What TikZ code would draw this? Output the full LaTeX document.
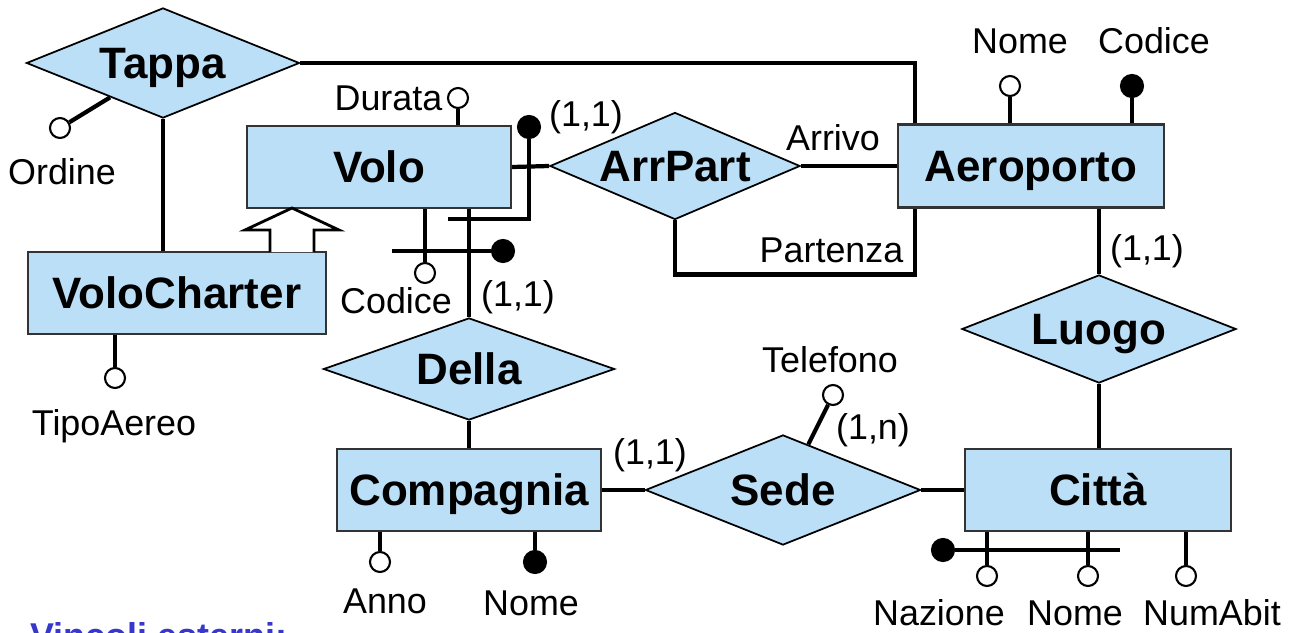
\documentclass[tikz,border=0pt]{standalone}
\usepackage{fontspec}
\setmainfont{Liberation Sans}
\usetikzlibrary{shapes.geometric}
\definecolor{erblue}{RGB}{187,223,247}
\definecolor{noteblue}{RGB}{55,55,205}
\begin{document}
\begin{tikzpicture}[x=0.01cm, y=-0.01cm,
  entity/.style={shape=rectangle, draw=black!80, line width=0.6pt, fill=erblue, inner sep=0pt, font=\fontsize{12.5}{14}\selectfont\bfseries, text height=9pt, text depth=0pt},
  rel/.style={shape=diamond, draw=black, line width=0.5pt, fill=erblue, inner sep=0pt, font=\fontsize{12.5}{14}\selectfont\bfseries, text height=9pt, text depth=0pt},
  attr/.style={shape=circle, draw=black, line width=0.6pt, fill=white, inner sep=0pt, minimum size=0.2cm},
  key/.style={attr, fill=black, minimum size=0.22cm},
  lbl/.style={inner sep=0pt, font=\fontsize{10.2}{12}\selectfont, text height=7.3pt, text depth=0pt},
  conn/.style={line width=1.2pt}]
\useasboundingbox (0,0) rectangle (1296,633);
\node[rel, minimum width=2.73cm, minimum height=1.10cm, aspect=2.5] (Tappa) at (163,63) {Tappa};
\node[rel, minimum width=2.50cm, minimum height=1.07cm, aspect=2.3] (ArrPart) at (675,166) {ArrPart};
\node[rel, minimum width=2.91cm, minimum height=1.02cm, aspect=2.8] (Della) at (469,369) {Della};
\node[rel, minimum width=2.75cm, minimum height=1.10cm, aspect=2.5] (Sede) at (783,490) {Sede};
\node[rel, minimum width=2.74cm, minimum height=1.08cm, aspect=2.5] (Luogo) at (1099,329) {Luogo};
\node[entity, minimum width=2.64cm, minimum height=0.82cm] (Volo) at (379,167) {Volo};
\node[entity, minimum width=2.97cm, minimum height=0.82cm] (VoloCharter) at (177,293) {VoloCharter};
\node[entity, minimum width=2.65cm, minimum height=0.83cm] (Aeroporto) at (1031,166) {Aeroporto};
\node[entity, minimum width=2.64cm, minimum height=0.82cm] (Compagnia) at (469,490) {Compagnia};
\node[entity, minimum width=2.65cm, minimum height=0.82cm] (Citta) at (1098,490) {Città};
\node[attr] (Ordine) at (60,128) {};
\node[attr] (Durata) at (458,98) {};
\node[attr] (VCodice) at (425,273) {};
\node[attr] (TipoAereo) at (115,378) {};
\node[attr] (ANome) at (1010,86) {};
\node[key] (ACodice) at (1132,86) {};
\node[attr] (Telefono) at (833,395) {};
\node[attr] (Anno) at (380,562) {};
\node[key] (CNome) at (535,562) {};
\node[attr] (Nazione) at (987,576) {};
\node[attr] (CiNome) at (1088,576) {};
\node[attr] (NumAbit) at (1186,576) {};
\node[key] (VoloKey) at (503,251) {};
\node[key] (ArrKey) at (529,127) {};
\node[key] (CittaKey) at (943,550) {};
\coordinate (vkend) at (392,251);
\coordinate (akend) at (448,219);
\coordinate (ckend) at (1120,550);
\coordinate (isa) at (292,208);
\node[lbl] (lOrdine) at (62,172) {Ordine};
\node[lbl, anchor=east] (lDurata) at (443,98) {Durata};
\node[lbl] (lVCodice) at (396,301) {Codice};
\node[lbl] (lTipoAereo) at (114,423) {TipoAereo};
\node[lbl] (lANome) at (1020,41) {Nome};
\node[lbl] (lACodice) at (1154,41) {Codice};
\node[lbl] (lArrivo) at (833,138) {Arrivo};
\node[lbl, anchor=east] (lPartenza) at (904,250) {Partenza};
\node[lbl] (cAeroporto) at (1147,248) {(1,1)};
\node[lbl] (lTelefono) at (830,360) {Telefono};
\node[lbl] (cTelefono) at (873,427) {(1,n)};
\node[lbl] (cSede) at (650,452) {(1,1)};
\node[lbl] (lAnno) at (385,601) {Anno};
\node[lbl] (lCNome) at (531,603) {Nome};
\node[lbl] (lNazione) at (939,613) {Nazione};
\node[lbl] (lCiNome) at (1075,613) {Nome};
\node[lbl] (lNumAbit) at (1212,613) {NumAbit};
\node[lbl] (cDella) at (518,294) {(1,1)};
\node[lbl] (cArrPart) at (586,114) {(1,1)};
\node[lbl, anchor=west, text=noteblue, font=\fontsize{10.2}{12}\selectfont\bfseries] (vincoli) at (30,636) {Vincoli esterni:};
\draw[conn] (Tappa.east) -| ([xshift=0.18cm]Aeroporto.north west);
\draw[conn] (Tappa.south) -- (Tappa.south |- VoloCharter.north);
\draw[conn] (Tappa.213) -- (Ordine);
\draw[conn] (TipoAereo |- VoloCharter.south) -- (TipoAereo);
\draw[line width=0.8pt, fill=white] (isa) ++(-22,44) -- ++(0,-22) -- ++(-25,0) -- (isa) -- ++(47,22) -- ++(-25,0) -- ++(0,22);
\draw[conn] (Durata |- Volo.north) -- (Durata);
\draw[conn] (VCodice |- Volo.south) -- (VCodice);
\draw[conn] (vkend) -- (VoloKey);
\draw[conn] (Della.north |- Volo.south) -- (Della.north);
\draw[conn] (ArrKey) |- (akend);
\draw[conn] (Volo.east) -- (ArrPart.west);
\draw[conn] (ArrPart.east) -- (Aeroporto.west);
\draw[conn] (ArrPart.south) -- ++(0,54) -| ([xshift=0.18cm]Aeroporto.south west);
\draw[conn] (ANome |- Aeroporto.north) -- (ANome);
\draw[conn] (ACodice |- Aeroporto.north) -- (ACodice);
\draw[conn] (Luogo.north |- Aeroporto.south) -- (Luogo.north);
\draw[conn] (Luogo.south) -- (Luogo.south |- Citta.north);
\draw[conn] (Sede.east) -- (Citta.west);
\draw[conn] (Compagnia.east) -- (Sede.west);
\draw[conn] (Della.south) -- (Della.south |- Compagnia.north);
\draw[conn] (Sede.61) -- (Telefono);
\draw[conn] (Anno |- Compagnia.south) -- (Anno);
\draw[conn] (CNome |- Compagnia.south) -- (CNome);
\draw[conn] (Nazione |- Citta.south) -- (Nazione);
\draw[conn] (CiNome |- Citta.south) -- (CiNome);
\draw[conn] (NumAbit |- Citta.south) -- (NumAbit);
\draw[conn] (CittaKey) -- (ckend);
\end{tikzpicture}
\end{document}
